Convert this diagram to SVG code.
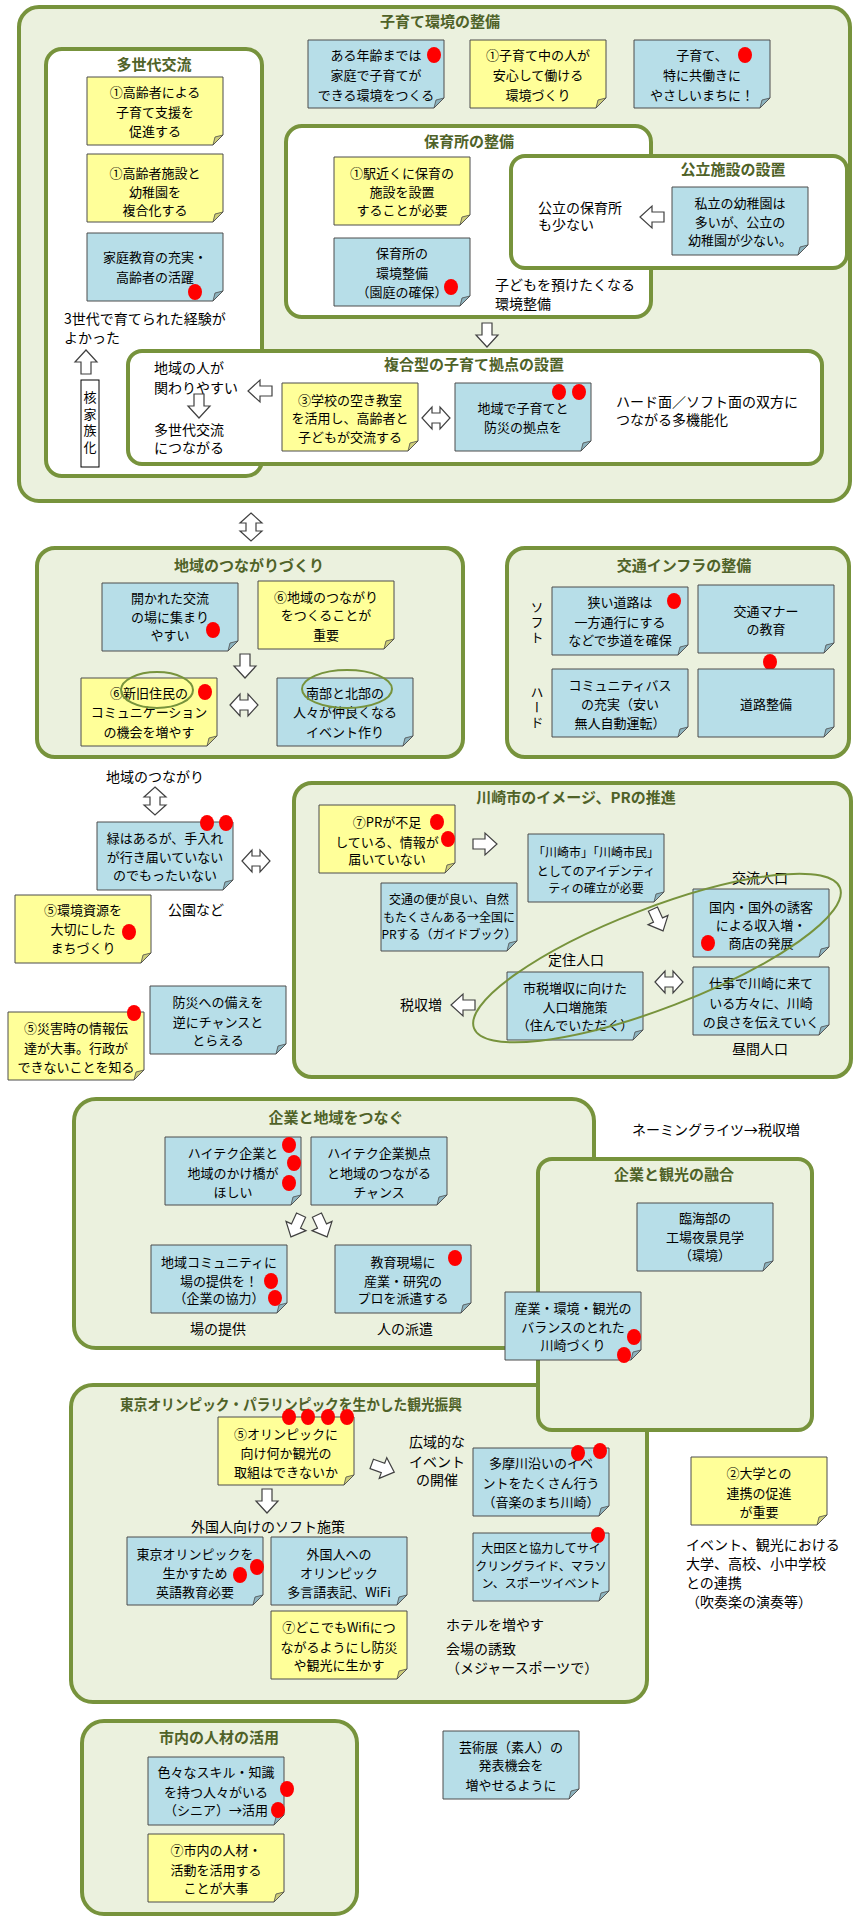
<svg xmlns="http://www.w3.org/2000/svg" xmlns:xlink="http://www.w3.org/1999/xlink" width="853" height="1918" viewBox="0 0 853 1918">
<style>
.c{fill:#EBF1DE;stroke:#77933C;stroke-width:4}
.w{fill:#fff;stroke:#77933C;stroke-width:4}
.h{font-family:"Noto Sans CJK JP",sans-serif;font-weight:bold;font-size:15px;fill:#4F6228;text-anchor:middle}
.t{font-family:"Noto Sans CJK JP",sans-serif;font-size:13px;fill:#000;text-anchor:middle}
.f{font-size:14px}
.s{font-size:12px}
.l{text-anchor:start}
.v{writing-mode:vertical-rl;text-anchor:start}
.b{fill:#B7DEE8;stroke:#4d4d4d;stroke-width:1}
.y{fill:#FFFF99;stroke:#4d4d4d;stroke-width:1}
.fb{fill:#8DB3BE;stroke:#4d4d4d;stroke-width:.8}
.fy{fill:#CDCD7A;stroke:#4d4d4d;stroke-width:.8}
.a{fill:#fff;stroke:#404040;stroke-width:1.2}
.e{fill:none;stroke:#77933C;stroke-width:2}
.d{fill:#FF0000}
</style>
<defs>
<g id="nb"><path class="b" d="M0,0H136V58L126,68H0Z"/><path class="fb" d="M136,58L126,68L128,60Z"/></g>
<g id="ny"><path class="y" d="M0,0H136V58L126,68H0Z"/><path class="fy" d="M136,58L126,68L128,60Z"/></g>
<ellipse id="dot" class="d" cx="0" cy="0" rx="7" ry="8"/>
<polygon id="ar" class="a" points="-12,-5 0,-5 0,-11 12,0 0,11 0,5 -12,5"/>
<polygon id="a2" class="a" points="-14,0 -4,-11 -4,-5 4,-5 4,-11 14,0 4,11 4,5 -4,5 -4,11"/>
</defs>

<!-- containers -->
<g id="g-kosodate"><rect class="c" x="19" y="7" width="831" height="494" rx="20"/><text class="h" x="440" y="27">子育て環境の整備</text></g>
<g id="g-tasedai"><rect class="w" x="46" y="49" width="216" height="427" rx="16"/><text class="h" x="154" y="70">多世代交流</text></g>
<g id="g-hoiku"><rect class="w" x="286" y="126" width="365" height="191" rx="16"/><text class="h" x="469" y="147">保育所の整備</text></g>
<g id="g-kouritsu"><rect class="w" x="511" y="156" width="336" height="112" rx="14"/><text class="h" x="733" y="175">公立施設の設置</text></g>
<g id="g-fukugou"><rect class="w" x="128" y="351" width="694" height="113" rx="14"/><text class="h" x="474" y="370">複合型の子育て拠点の設置</text></g>
<g id="g-chiiki"><rect class="c" x="37" y="548" width="426" height="209" rx="18"/><text class="h" x="249" y="571">地域のつながりづくり</text></g>
<g id="g-koutsu"><rect class="c" x="507" y="548" width="342" height="209" rx="18"/><text class="h" x="684" y="571">交通インフラの整備</text></g>
<g id="g-kawasaki"><rect class="c" x="294" y="783" width="557" height="294" rx="18"/><text class="h" x="576" y="803">川崎市のイメージ、PRの推進</text></g>
<g id="g-kigyo"><rect class="c" x="74" y="1099" width="520" height="249" rx="22"/><text class="h" x="336" y="1123">企業と地域をつなぐ</text></g>
<g id="g-tokyo"><rect class="c" x="71" y="1385" width="576" height="317" rx="22"/><text class="h l" x="120" y="1410" textLength="342" lengthAdjust="spacingAndGlyphs">東京オリンピック・パラリンピックを生かした観光振興</text></g>
<g id="g-kanko"><rect class="c" x="538" y="1159" width="274" height="271" rx="14"/><text class="h" x="674" y="1180">企業と観光の融合</text></g>
<g id="g-jinzai"><rect class="c" x="82" y="1721" width="275" height="193" rx="22"/><text class="h" x="219" y="1743">市内の人材の活用</text></g>

<!-- notes -->
<g id="n1"><use xlink:href="#nb" x="308" y="40"/><text class="t"><tspan x="376" y="60">ある年齢までは</tspan><tspan x="376" y="80">家庭で子育てが</tspan><tspan x="376" y="100">できる環境をつくる</tspan></text><use xlink:href="#dot" x="434" y="55"/></g>
<g id="n2"><use xlink:href="#ny" x="470" y="40"/><text class="t"><tspan x="538" y="60">①子育て中の人が</tspan><tspan x="538" y="80">安心して働ける</tspan><tspan x="538" y="100">環境づくり</tspan></text></g>
<g id="n3"><use xlink:href="#nb" x="634" y="40"/><text class="t"><tspan x="702" y="60">子育て、</tspan><tspan x="702" y="80">特に共働きに</tspan><tspan x="702" y="100">やさしいまちに！</tspan></text><use xlink:href="#dot" x="745" y="55"/></g>
<g id="n4"><use xlink:href="#ny" x="87" y="77"/><text class="t"><tspan x="155" y="97">①高齢者による</tspan><tspan x="155" y="117">子育て支援を</tspan><tspan x="155" y="136">促進する</tspan></text></g>
<g id="n5"><use xlink:href="#ny" x="87" y="154"/><text class="t"><tspan x="155" y="178">①高齢者施設と</tspan><tspan x="155" y="197">幼稚園を</tspan><tspan x="155" y="215">複合化する</tspan></text></g>
<g id="n6"><use xlink:href="#nb" x="87" y="233"/><text class="t"><tspan x="155" y="262">家庭教育の充実・</tspan><tspan x="155" y="282">高齢者の活躍</tspan></text><use xlink:href="#dot" x="195" y="292"/></g>
<g id="n7"><use xlink:href="#ny" x="334" y="157"/><text class="t"><tspan x="402" y="178">①駅近くに保育の</tspan><tspan x="402" y="197">施設を設置</tspan><tspan x="402" y="215">することが必要</tspan></text></g>
<g id="n8"><use xlink:href="#nb" x="334" y="238"/><text class="t"><tspan x="402" y="258">保育所の</tspan><tspan x="402" y="278">環境整備</tspan><tspan x="402" y="297">（園庭の確保）</tspan></text><use xlink:href="#dot" x="451" y="287"/></g>
<g id="n9"><use xlink:href="#nb" x="672" y="187"/><text class="t"><tspan x="740" y="208">私立の幼稚園は</tspan><tspan x="740" y="227">多いが、公立の</tspan><tspan x="740" y="245">幼稚園が少ない。</tspan></text></g>
<g id="n10"><use xlink:href="#ny" x="282" y="383"/><text class="t"><tspan x="350" y="405">③学校の空き教室</tspan><tspan x="350" y="423">を活用し、高齢者と</tspan><tspan x="350" y="442">子どもが交流する</tspan></text></g>
<g id="n11"><use xlink:href="#nb" x="455" y="383"/><text class="t"><tspan x="523" y="413">地域で子育てと</tspan><tspan x="523" y="432">防災の拠点を</tspan></text><use xlink:href="#dot" x="559" y="392"/><use xlink:href="#dot" x="579" y="392"/></g>
<g id="n12"><use xlink:href="#nb" x="102" y="583"/><text class="t"><tspan x="170" y="603">開かれた交流</tspan><tspan x="170" y="622">の場に集まり</tspan><tspan x="170" y="640">やすい</tspan></text><use xlink:href="#dot" x="213" y="630"/></g>
<g id="n13"><use xlink:href="#ny" x="258" y="581"/><text class="t"><tspan x="326" y="602">⑥地域のつながり</tspan><tspan x="326" y="620">をつくることが</tspan><tspan x="326" y="640">重要</tspan></text></g>
<g id="n14"><use xlink:href="#nb" x="552" y="587"/><text class="t"><tspan x="620" y="607">狭い道路は</tspan><tspan x="620" y="627">一方通行にする</tspan><tspan x="620" y="645">などで歩道を確保</tspan></text><use xlink:href="#dot" x="674" y="601"/></g>
<g id="n15"><use xlink:href="#nb" x="698" y="585"/><text class="t"><tspan x="766" y="616">交通マナー</tspan><tspan x="766" y="634">の教育</tspan></text><use xlink:href="#dot" x="770" y="662"/></g>
<g id="n16"><use xlink:href="#nb" x="552" y="669"/><text class="t"><tspan x="620" y="690">コミュニティバス</tspan><tspan x="620" y="709">の充実（安い</tspan><tspan x="620" y="728">無人自動運転）</tspan></text></g>
<g id="n17"><use xlink:href="#nb" x="698" y="669"/><text class="t"><tspan x="766" y="709">道路整備</tspan></text></g>
<g id="n18"><use xlink:href="#ny" x="81" y="678"/><text class="t"><tspan x="149" y="698">⑥新旧住民の</tspan><tspan x="149" y="717">コミュニケーション</tspan><tspan x="149" y="737">の機会を増やす</tspan></text><use xlink:href="#dot" x="205" y="692"/></g>
<g id="n19"><use xlink:href="#nb" x="277" y="678"/><text class="t"><tspan x="345" y="698">南部と北部の</tspan><tspan x="345" y="717">人々が仲良くなる</tspan><tspan x="345" y="737">イベント作り</tspan></text></g>
<g id="n20"><use xlink:href="#ny" x="319" y="805"/><text class="t"><tspan x="387" y="827">⑦PRが不足</tspan><tspan x="387" y="847">している、情報が</tspan><tspan x="387" y="864">届いていない</tspan></text><use xlink:href="#dot" x="437" y="822"/><use xlink:href="#dot" x="448" y="839"/></g>
<g id="n21"><use xlink:href="#nb" x="528" y="834"/><text class="t s"><tspan x="596" y="857">「川崎市」「川崎市民」</tspan><tspan x="596" y="876">としてのアイデンティ</tspan><tspan x="596" y="893">ティの確立が必要</tspan></text></g>
<g id="n22"><use xlink:href="#nb" x="97" y="822"/><text class="t"><tspan x="165" y="843">緑はあるが、手入れ</tspan><tspan x="165" y="862">が行き届いていない</tspan><tspan x="165" y="880">のでもったいない</tspan></text><use xlink:href="#dot" x="207" y="823"/><use xlink:href="#dot" x="226" y="823"/></g>
<g id="n23"><use xlink:href="#ny" x="15" y="895"/><text class="t"><tspan x="83" y="915">⑤環境資源を</tspan><tspan x="83" y="934">大切にした</tspan><tspan x="83" y="953">まちづくり</tspan></text><use xlink:href="#dot" x="129" y="932"/></g>
<g id="n24"><use xlink:href="#nb" x="381" y="883"/><text class="t s"><tspan x="449" y="904">交通の便が良い、自然</tspan><tspan x="449" y="922">もたくさんある→全国に</tspan><tspan x="449" y="939">PRする（ガイドブック）</tspan></text></g>
<g id="n25"><use xlink:href="#nb" x="693" y="889"/><text class="t"><tspan x="761" y="912">国内・国外の誘客</tspan><tspan x="761" y="930">による収入増・</tspan><tspan x="761" y="948">商店の発展</tspan></text><use xlink:href="#dot" x="708" y="943"/></g>
<g id="n26"><use xlink:href="#nb" x="507" y="972"/><text class="t"><tspan x="575" y="993">市税増収に向けた</tspan><tspan x="575" y="1012">人口増施策</tspan><tspan x="575" y="1030">（住んでいただく）</tspan></text></g>
<g id="n27"><use xlink:href="#nb" x="693" y="967"/><text class="t"><tspan x="761" y="988">仕事で川崎に来て</tspan><tspan x="761" y="1008">いる方々に、川崎</tspan><tspan x="761" y="1027">の良さを伝えていく</tspan></text></g>
<g id="n28"><use xlink:href="#nb" x="150" y="986"/><text class="t"><tspan x="218" y="1007">防災への備えを</tspan><tspan x="218" y="1027">逆にチャンスと</tspan><tspan x="218" y="1045">とらえる</tspan></text></g>
<g id="n29"><use xlink:href="#ny" x="8" y="1012"/><text class="t"><tspan x="76" y="1033">⑤災害時の情報伝</tspan><tspan x="76" y="1053">達が大事。行政が</tspan><tspan x="76" y="1072">できないことを知る</tspan></text><use xlink:href="#dot" x="134" y="1013"/></g>
<g id="n30"><use xlink:href="#nb" x="165" y="1137"/><text class="t"><tspan x="233" y="1158">ハイテク企業と</tspan><tspan x="233" y="1178">地域のかけ橋が</tspan><tspan x="233" y="1197">ほしい</tspan></text><use xlink:href="#dot" x="289" y="1145"/><use xlink:href="#dot" x="294" y="1163"/><use xlink:href="#dot" x="289" y="1183"/></g>
<g id="n31"><use xlink:href="#nb" x="311" y="1137"/><text class="t"><tspan x="379" y="1158">ハイテク企業拠点</tspan><tspan x="379" y="1178">と地域のつながる</tspan><tspan x="379" y="1197">チャンス</tspan></text></g>
<g id="n32"><use xlink:href="#nb" x="151" y="1245"/><text class="t"><tspan x="219" y="1267">地域コミュニティに</tspan><tspan x="219" y="1286">場の提供を！</tspan><tspan x="219" y="1303">（企業の協力）</tspan></text><use xlink:href="#dot" x="271" y="1281"/><use xlink:href="#dot" x="275" y="1298"/></g>
<g id="n33"><use xlink:href="#nb" x="335" y="1245"/><text class="t"><tspan x="403" y="1267">教育現場に</tspan><tspan x="403" y="1286">産業・研究の</tspan><tspan x="403" y="1303">プロを派遣する</tspan></text><use xlink:href="#dot" x="455" y="1258"/></g>
<g id="n34"><use xlink:href="#nb" x="637" y="1203"/><text class="t"><tspan x="705" y="1223">臨海部の</tspan><tspan x="705" y="1242">工場夜景見学</tspan><tspan x="705" y="1260">（環境）</tspan></text></g>
<g id="n35"><use xlink:href="#nb" x="505" y="1292"/><text class="t"><tspan x="573" y="1313">産業・環境・観光の</tspan><tspan x="573" y="1332">バランスのとれた</tspan><tspan x="573" y="1350">川崎づくり</tspan></text><use xlink:href="#dot" x="634" y="1337"/><use xlink:href="#dot" x="624" y="1355"/></g>
<g id="n36"><use xlink:href="#ny" x="218" y="1417"/><text class="t"><tspan x="286" y="1439">⑤オリンピックに</tspan><tspan x="286" y="1458">向け何か観光の</tspan><tspan x="286" y="1477">取組はできないか</tspan></text><use xlink:href="#dot" x="289" y="1417"/><use xlink:href="#dot" x="308" y="1417"/><use xlink:href="#dot" x="328" y="1417"/><use xlink:href="#dot" x="347" y="1417"/></g>
<g id="n37"><use xlink:href="#nb" x="473" y="1448"/><text class="t"><tspan x="541" y="1468">多摩川沿いのイベ</tspan><tspan x="541" y="1488">ントをたくさん行う</tspan><tspan x="541" y="1507">（音楽のまち川崎）</tspan></text><use xlink:href="#dot" x="578" y="1453"/><use xlink:href="#dot" x="600" y="1451"/></g>
<g id="n38"><use xlink:href="#nb" x="127" y="1537"/><text class="t"><tspan x="195" y="1559">東京オリンピックを</tspan><tspan x="195" y="1578">生かすため</tspan><tspan x="195" y="1597">英語教育必要</tspan></text><use xlink:href="#dot" x="257" y="1567"/><use xlink:href="#dot" x="240" y="1575"/></g>
<g id="n39"><use xlink:href="#nb" x="271" y="1537"/><text class="t"><tspan x="339" y="1559">外国人への</tspan><tspan x="339" y="1578">オリンピック</tspan><tspan x="339" y="1597">多言語表記、WiFi</tspan></text></g>
<g id="n40"><use xlink:href="#nb" x="473" y="1533"/><text class="t s"><tspan x="541" y="1553">大田区と協力してサイ</tspan><tspan x="541" y="1571">クリングライド、マラソ</tspan><tspan x="541" y="1588">ン、スポーツイベント</tspan></text><use xlink:href="#dot" x="598" y="1535"/></g>
<g id="n41"><use xlink:href="#ny" x="691" y="1457"/><text class="t"><tspan x="759" y="1478">②大学との</tspan><tspan x="759" y="1498">連携の促進</tspan><tspan x="759" y="1517">が重要</tspan></text></g>
<g id="n42"><use xlink:href="#ny" x="271" y="1611"/><text class="t"><tspan x="339" y="1632">⑦どこでもWifiにつ</tspan><tspan x="339" y="1652">ながるようにし防災</tspan><tspan x="339" y="1670">や観光に生かす</tspan></text></g>
<g id="n43"><use xlink:href="#nb" x="443" y="1731"/><text class="t"><tspan x="511" y="1752">芸術展（素人）の</tspan><tspan x="511" y="1770">発表機会を</tspan><tspan x="511" y="1790">増やせるように</tspan></text></g>
<g id="n44"><use xlink:href="#nb" x="148" y="1757"/><text class="t"><tspan x="216" y="1777">色々なスキル・知識</tspan><tspan x="216" y="1797">を持つ人々がいる</tspan><tspan x="216" y="1815">（シニア）→活用</tspan></text><use xlink:href="#dot" x="287" y="1789"/><use xlink:href="#dot" x="278" y="1810"/></g>
<g id="n45"><use xlink:href="#ny" x="148" y="1834"/><text class="t"><tspan x="216" y="1855">⑦市内の人材・</tspan><tspan x="216" y="1875">活動を活用する</tspan><tspan x="216" y="1893">ことが大事</tspan></text></g>

<!-- free labels -->
<g id="labels">
<text class="t f l"><tspan x="64" y="324">3世代で育てられた経験が</tspan><tspan x="64" y="343">よかった</tspan></text>
<g id="kakukazoku"><rect x="81" y="380" width="18" height="87" fill="#fff" stroke="#000" stroke-width="1"/><text class="t v" x="90" y="391" letter-spacing="3.5">核家族化</text></g>
<text class="t f l"><tspan x="495" y="290">子どもを預けたくなる</tspan><tspan x="495" y="309">環境整備</tspan></text>
<text class="t f l"><tspan x="538" y="213">公立の保育所</tspan><tspan x="538" y="230">も少ない</tspan></text>
<text class="t f l"><tspan x="154" y="373">地域の人が</tspan><tspan x="154" y="393">関わりやすい</tspan></text>
<text class="t f l"><tspan x="154" y="435">多世代交流</tspan><tspan x="154" y="453">につながる</tspan></text>
<text class="t f l"><tspan x="616" y="407">ハード面／ソフト面の双方に</tspan><tspan x="616" y="425">つながる多機能化</tspan></text>
<text class="t v" x="537" y="601" letter-spacing="2">ソフト</text>
<text class="t v" x="537" y="686" letter-spacing="2">ハード</text>
<text class="t f" x="155" y="782">地域のつながり</text>
<text class="t f l" x="168" y="915">公園など</text>
<text class="t f" x="760" y="883">交流人口</text>
<text class="t f" x="576" y="965">定住人口</text>
<text class="t f" x="421" y="1010">税収増</text>
<text class="t f" x="760" y="1054">昼間人口</text>
<text class="t f l" x="632" y="1135">ネーミングライツ→税収増</text>
<text class="t f" x="218" y="1334">場の提供</text>
<text class="t f" x="405" y="1334">人の派遣</text>
<text class="t f"><tspan x="437" y="1447">広域的な</tspan><tspan x="437" y="1467">イベント</tspan><tspan x="437" y="1485">の開催</tspan></text>
<text class="t f" x="268" y="1532">外国人向けのソフト施策</text>
<text class="t f l"><tspan x="686" y="1550">イベント、観光における</tspan><tspan x="686" y="1569">大学、高校、小中学校</tspan><tspan x="686" y="1588">との連携</tspan><tspan x="686" y="1607">（吹奏楽の演奏等）</tspan></text>
<text class="t f l"><tspan x="446" y="1630">ホテルを増やす</tspan><tspan x="446" y="1654">会場の誘致</tspan><tspan x="446" y="1673">（メジャースポーツで）</tspan></text>
</g>

<!-- connectors -->
<g id="connectors">
<use xlink:href="#ar" transform="translate(652,217) rotate(180)"/>
<use xlink:href="#ar" transform="translate(487,335) rotate(90)"/>
<use xlink:href="#ar" transform="translate(86,362) rotate(-90)"/>
<use xlink:href="#ar" transform="translate(260,391) rotate(180)"/>
<use xlink:href="#ar" transform="translate(199,406) rotate(90)"/>
<use xlink:href="#a2" transform="translate(436,418)"/>
<use xlink:href="#a2" transform="translate(251,527) rotate(90)"/>
<use xlink:href="#ar" transform="translate(245,666) rotate(90)"/>
<use xlink:href="#a2" transform="translate(244,705)"/>
<use xlink:href="#a2" transform="translate(155,801) rotate(90)"/>
<use xlink:href="#ar" transform="translate(485,844)"/>
<use xlink:href="#a2" transform="translate(256,861)"/>
<use xlink:href="#ar" transform="translate(658,920) rotate(65)"/>
<use xlink:href="#a2" transform="translate(669,982)"/>
<use xlink:href="#ar" transform="translate(463,1005) rotate(180)"/>
<use xlink:href="#ar" transform="translate(296,1226) rotate(115)"/>
<use xlink:href="#ar" transform="translate(322,1226) rotate(65)"/>
<use xlink:href="#ar" transform="translate(383,1468) rotate(20)"/>
<use xlink:href="#ar" transform="translate(267,1501) rotate(90)"/>
</g>

<!-- annotation ellipses -->
<g id="marks">
<ellipse class="e" cx="157" cy="690" rx="36" ry="18"/>
<ellipse class="e" cx="347" cy="689" rx="45" ry="19"/>
<ellipse class="e" cx="0" cy="0" rx="196" ry="50" transform="translate(657,958) rotate(-21)"/>
</g>
</svg>
